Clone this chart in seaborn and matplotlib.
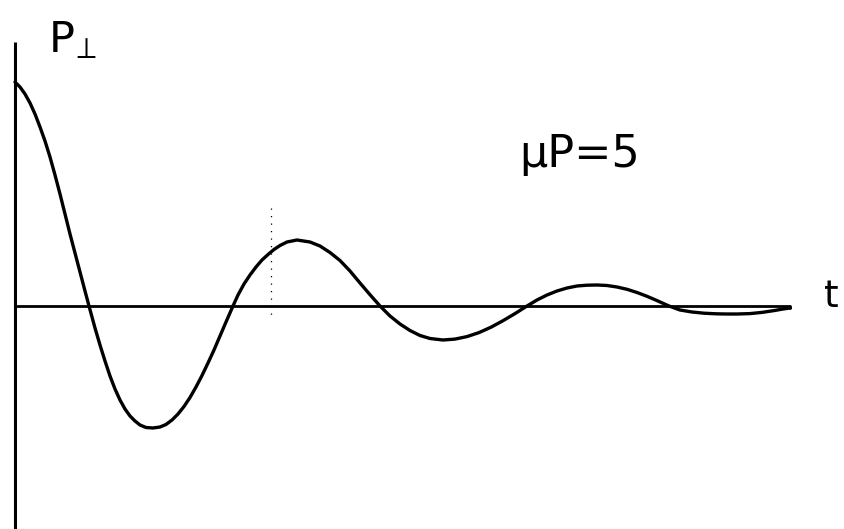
import numpy as np
import pandas as pd
import matplotlib
matplotlib.use("Agg")
import matplotlib.pyplot as plt
import seaborn as sns

# Curve (arbitrary units: t along the time axis, P = P_perp)
t_vals = [0, 5, 10, 15, 20, 25, 30, 35, 40, 45, 50, 55, 60, 65, 70, 74, 80, 85, 90, 95,
          100, 105, 110, 115, 120, 125, 131, 138,
          145, 151, 157, 163, 169, 175, 181, 187, 193, 199, 205, 211, 218, 223, 229, 235,
          241, 247, 253, 259, 265, 272, 282,
          295, 305, 315, 325, 335, 345, 355, 365, 375, 385, 395, 405, 415, 428,
          440, 452, 464, 476, 488, 500, 512, 522, 532, 542, 552, 562, 572, 582,
          592, 602, 612, 622, 632, 642, 654, 665, 677, 689, 701, 711, 722, 735, 747, 759,
          768, 775]
p_vals = [224, 219, 212, 203, 192, 179, 165, 149, 131, 112, 92, 72, 53, 34, 15, 0, -22, -39, -55, -70,
          -83, -94, -103, -110, -115, -119, -121.5, -122,
          -121, -118.5, -114, -108, -100.5, -91.5, -81, -69.5, -57, -44, -30, -16, 0, 11, 22, 31,
          39, 46, 51.5, 56.5, 60.5, 64, 66,
          64, 60, 53.5, 45.5, 35, 23, 11.3, 0, -10, -18, -24.5, -29.5, -32.5, -34,
          -33.1, -30.6, -26.6, -21.2, -14.7, -7.6, 0, 6, 11, 15, 18, 20, 20.8, 21,
          20.5, 19, 16.7, 13.5, 9.7, 5.4, 0, -4, -6, -7.2, -7.8, -8, -8, -7.6, -6.4, -4.6,
          -3, -2]

marker_t = 256
marker_top, marker_bottom = 98, -14
axis_top = 264

label_p = r"P$_{\!\perp}$"
label_t = "t"
label_param = "\u03bcP=5"

W, H = 844, 529
sns.set_theme(style="white")
plt.rcParams['font.family'] = ['DejaVu Sans']
plt.rcParams['mathtext.fontset'] = 'dejavusans'
fig = plt.figure(figsize=(W / 100, H / 100), dpi=100)
ax = fig.add_axes([0, 0, 1, 1])

ax.set_xlim(-15, W - 15)
ax.set_ylim(306 - H, 306)
ax.axis("off")

df = pd.DataFrame({"t": t_vals, "P": p_vals})
sns.lineplot(data=df, x="t", y="P", ax=ax, color="black", linewidth=2.4,
             sort=False, estimator=None)

# axes
ax.plot([0, 0], [axis_top, 306 - H - 10], color="black", lw=2.2, solid_capstyle="butt")
ax.plot([0, t_vals[-1]], [0, 0], color="black", lw=2.0, solid_capstyle="butt")
ax.plot([t_vals[-1], t_vals[-1]], [0, p_vals[-1]], color="black", lw=2.0)

# dotted marker
ax.plot([marker_t, marker_t], [marker_top, marker_bottom], color="black", lw=0.9,
        linestyle=(0, (1, 5)))

def ftext(x, y, s, size, **kw):
    fig.text(x / W, 1 - y / H, s, fontsize=size, color="black", va="baseline",
             ha="left", **kw)

ftext(48, 52, label_p, 31)
ftext(519, 167, label_param, 32)
ftext(824, 307, label_t, 27)

fig.savefig("out.png", dpi=100, facecolor="white")
